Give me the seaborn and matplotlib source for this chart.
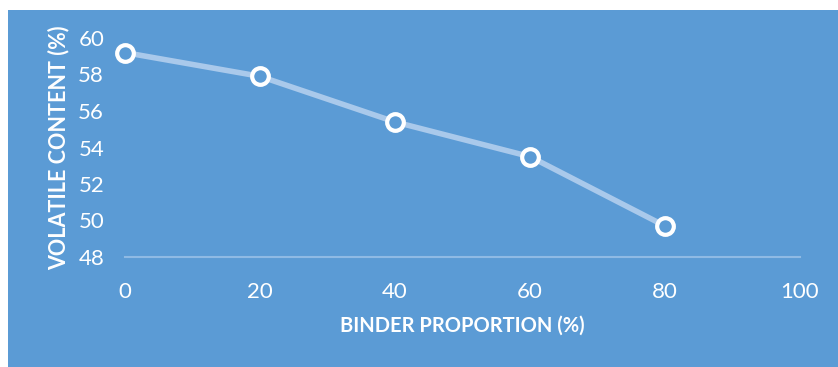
import matplotlib
matplotlib.use("Agg")
import matplotlib.pyplot as plt
from matplotlib.patches import Rectangle
import seaborn as sns
import pandas as pd

binder_proportion = [0, 20, 40, 60, 80]
volatile_content = [59.2, 57.9, 55.4, 53.5, 49.7]
x_ticks = [0, 20, 40, 60, 80, 100]
y_ticks = [48, 50, 52, 54, 56, 58, 60]

BG = "#5B9BD5"
LINE = "#A9C9EB"
AXIS_LINE = "#8FBAE4"

sns.set_theme(style="white")
plt.rcParams["font.family"] = ["Lato", "DejaVu Sans"]

fig = plt.figure(figsize=(8.38, 3.67), dpi=100, facecolor="white")
fig.patches.append(Rectangle((8 / 838, 0), 1 - 8 / 838, 357 / 367,
                             transform=fig.transFigure, facecolor=BG,
                             edgecolor="none", zorder=-10))
ax = fig.add_axes([125 / 838, 1 - 257 / 367, 675 / 838, 219 / 367])
ax.set_facecolor("none")
ax.set_zorder(5)

df = pd.DataFrame({"binder": binder_proportion, "volatile": volatile_content})
sns.lineplot(data=df, x="binder", y="volatile", ax=ax, color=LINE,
             linewidth=4, marker="o", markersize=12,
             markerfacecolor=BG, markeredgecolor="white",
             markeredgewidth=3, clip_on=False)

ax.set_xlim(0, 100)
ax.set_ylim(48, 60)
ax.set_xticks(x_ticks)
ax.set_yticks(y_ticks)
ax.tick_params(axis="both", length=0, colors="white", labelsize=16)
ax.tick_params(axis="x", pad=18)
ax.tick_params(axis="y", pad=15)
for lbl in ax.get_xticklabels():
    lbl.set_color("white")
for lbl in ax.get_yticklabels():
    lbl.set_color("white")

for side in ["top", "right", "left"]:
    ax.spines[side].set_visible(False)
ax.spines["bottom"].set_color(AXIS_LINE)
ax.spines["bottom"].set_linewidth(1.5)
ax.grid(False)

ax.set_xlabel("BINDER PROPORTION (%)", color="white", fontsize=14.5,
              fontweight="bold", labelpad=10)
ax.set_ylabel("VOLATILE CONTENT (%)", color="white", fontsize=15.5,
              fontweight="bold", labelpad=6)

fig.savefig("out.png", dpi=100, facecolor="white")
